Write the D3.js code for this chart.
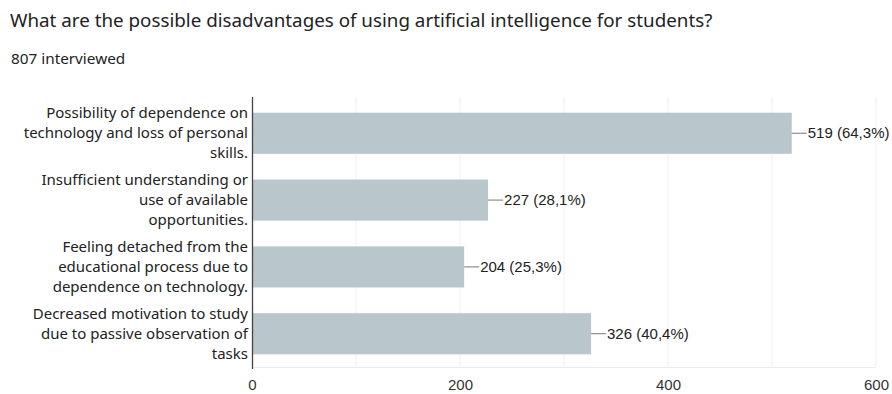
<!DOCTYPE html>
<html>
<head>
<meta charset="utf-8">
<script src="https://cdn.jsdelivr.net/npm/d3@7"></script>
<style>
  html, body { margin: 0; padding: 0; background: #fff; }
  svg { display: block; }
</style>
</head>
<body>
<svg id="chart" width="892" height="394"></svg>
<script>
// Survey answers: disadvantages of AI for students
const categories = [
  ["Possibility of dependence on", "technology and loss of personal", "skills."],
  ["Insufficient understanding or", "use of available", "opportunities."],
  ["Feeling detached from the", "educational process due to", "dependence on technology."],
  ["Decreased motivation to study", "due to passive observation of", "tasks"]
];
const counts = [519, 227, 204, 326];
const percents = ["64,3%", "28,1%", "25,3%", "40,4%"];
const xTicks = [0, 200, 400, 600];
const gridTicks = [100, 200, 300, 400, 500, 600];
const title = "What are the possible disadvantages of using artificial intelligence for students?";
const subtitle = "807 interviewed";

const svg = d3.select("#chart");
const plotLeft = 252, plotRight = 876, plotTop = 100, plotBottom = 367;

const x = d3.scaleLinear().domain([0, 600]).range([plotLeft, plotRight]);
const y = d3.scaleBand().domain(d3.range(categories.length)).range([plotTop, plotBottom]).paddingInner(0.385).paddingOuter(0.19);

const labelFont = "'Noto Sans', sans-serif";
const numFont = "'Liberation Sans', Arial, sans-serif";

svg.append("text")
  .attr("x", 10).attr("y", 27)
  .attr("font-family", labelFont).attr("font-size", 18.8).attr("fill", "#222")
  .text(title);

svg.append("text")
  .attr("x", 11).attr("y", 64)
  .attr("font-family", labelFont).attr("font-size", 15.3).attr("fill", "#222")
  .text(subtitle);

// vertical grid lines
svg.append("g").selectAll("line").data(gridTicks).join("line")
  .attr("x1", d => x(d)).attr("x2", d => x(d))
  .attr("y1", plotTop - 3).attr("y2", plotBottom)
  .attr("stroke", "#efefef").attr("stroke-width", 1);

// baseline at the bottom of the plot
svg.append("line")
  .attr("x1", plotLeft).attr("x2", plotRight).attr("y1", plotBottom + 0.5).attr("y2", plotBottom + 0.5)
  .attr("stroke", "#ececec");

// bars
svg.append("g").selectAll("rect").data(counts).join("rect")
  .attr("x", x(0)).attr("y", (d, i) => y(i))
  .attr("width", d => x(d) - x(0)).attr("height", y.bandwidth())
  .attr("fill", "#b9c6cc");

// leader lines and value labels
const lab = svg.append("g");
counts.forEach((d, i) => {
  const cy = y(i) + y.bandwidth() / 2;
  lab.append("line")
    .attr("x1", x(d)).attr("x2", x(d) + 15)
    .attr("y1", cy).attr("y2", cy)
    .attr("stroke", "#777").attr("stroke-width", 1);
  lab.append("text")
    .attr("x", x(d) + 16).attr("y", cy).attr("dy", "0.35em")
    .attr("font-family", numFont).attr("font-size", 15).attr("fill", "#222")
    .text(`${d} (${percents[i]})`);
});

// category labels, right aligned against the axis
const cat = svg.append("g");
categories.forEach((lines, i) => {
  const cy = y(i) + y.bandwidth() / 2;
  const lh = 20;
  lines.forEach((s, j) => {
    cat.append("text")
      .attr("x", plotLeft - 4)
      .attr("y", cy + (j - (lines.length - 1) / 2) * lh)
      .attr("dy", "0.35em")
      .attr("text-anchor", "end")
      .attr("font-family", labelFont).attr("font-size", 15).attr("fill", "#222")
      .text(s);
  });
});

// left axis line
svg.append("line")
  .attr("x1", plotLeft + 0.5).attr("x2", plotLeft + 0.5)
  .attr("y1", plotTop - 3).attr("y2", plotBottom + 2)
  .attr("stroke", "#444").attr("stroke-width", 1.3);

// x axis tick labels
const xAxis = d3.axisBottom(x).tickValues(xTicks).tickSize(0).tickPadding(10);
const gx = svg.append("g").attr("transform", `translate(0,${plotBottom + 2})`).call(xAxis);
gx.select(".domain").remove();
gx.selectAll("text")
  .attr("font-family", numFont).attr("font-size", 15).attr("fill", "#333");
</script>
</body>
</html>
